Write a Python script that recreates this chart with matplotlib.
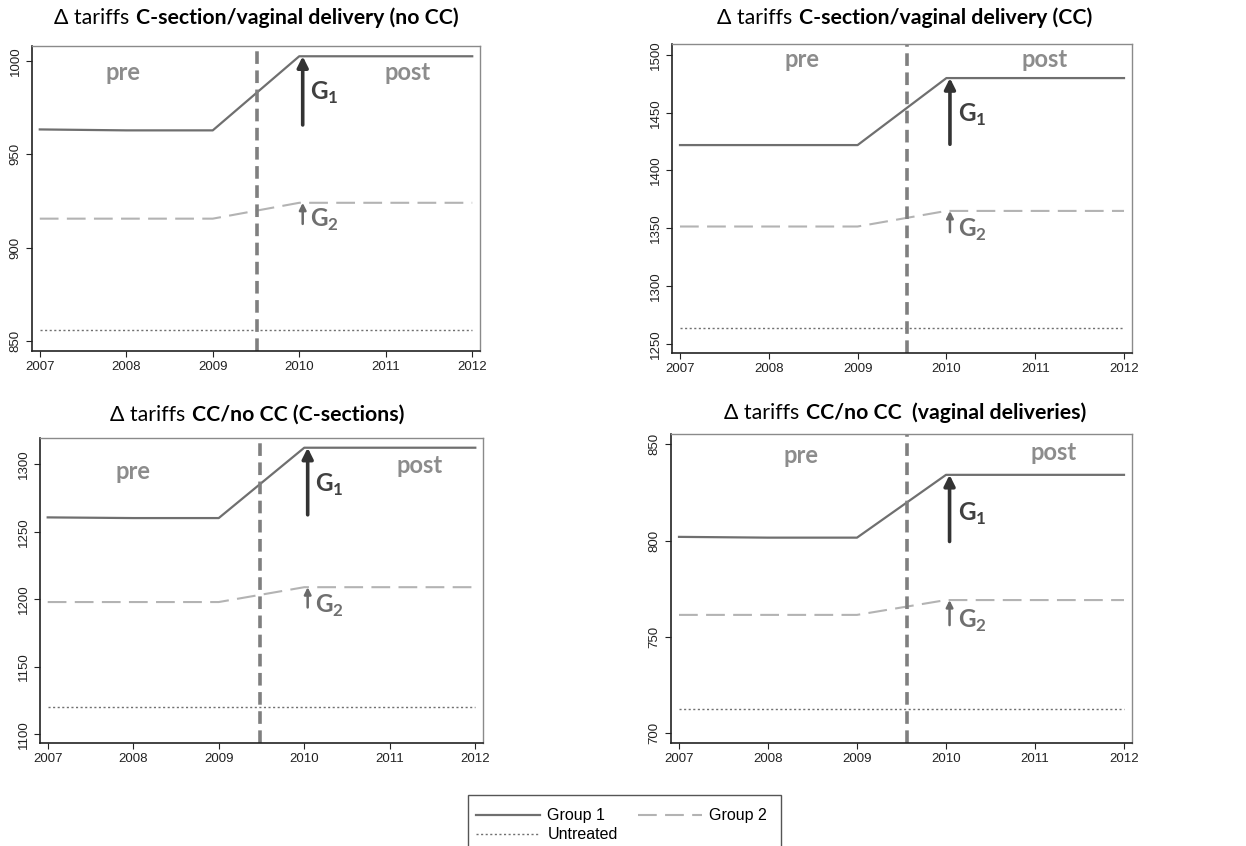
import matplotlib
matplotlib.use("Agg")
import matplotlib.pyplot as plt
from matplotlib.offsetbox import TextArea, HPacker, AnchoredOffsetbox
from matplotlib.patches import Rectangle

plt.rcParams["font.family"] = ["Liberation Sans", "DejaVu Sans"]
plt.rcParams["mathtext.fontset"] = "custom"
plt.rcParams["mathtext.rm"] = "Lato"
plt.rcParams["mathtext.bf"] = "Lato:bold"

years = [2007, 2008, 2009, 2010, 2011, 2012]

titles_bold = [
    "C-section/vaginal delivery (no CC)",
    "C-section/vaginal delivery (CC)",
    "CC/no CC (C-sections)",
    "CC/no CC  (vaginal deliveries)",
]

group1 = [
    [963.3, 962.8, 962.8, 1002.5, 1002.5, 1002.5],
    [1422, 1422, 1422, 1480, 1480, 1480],
    [1260.7, 1260.2, 1260.2, 1312.3, 1312.3, 1312.3],
    [802.0, 801.6, 801.6, 834.2, 834.2, 834.2],
]
group2 = [
    [915.5, 915.5, 915.5, 924.0, 924.0, 924.0],
    [1351.5, 1351.5, 1351.5, 1365, 1365, 1365],
    [1198, 1198, 1198, 1209, 1209, 1209],
    [761.5, 761.5, 761.5, 769.2, 769.2, 769.2],
]
untreated = [
    [856] * 6,
    [1264] * 6,
    [1120.5] * 6,
    [712.5] * 6,
]
reform_x = [2009.51, 2009.56, 2009.48, 2009.56]
ylims = [(844.6, 1008), (1242, 1509.5), (1093.6, 1319.5), (695, 855.4)]
yticks = [range(850, 1001, 50), range(1250, 1501, 50),
          range(1100, 1301, 50), range(700, 851, 50)]

# arrows: start values, ending at the 2010 group value
g1_arrow_start = [965.7, 1422.7, 1262.6, 799.6]
g2_arrow_start = [912.7, 1346.6, 1194, 756.2]
g1_label_y = [983, 1448, 1285, 814]
g2_label_y = [914.8, 1349, 1195, 758.5]
pre_pos = [(2007.96, 993.7), (2008.37, 1495.7), (2008.0, 1294.5), (2008.37, 844)]
post_pos = [(2011.25, 993.7), (2011.1, 1495.7), (2011.35, 1299.5), (2011.21, 845.6)]

W, H = 1246, 846
fig = plt.figure(figsize=(W / 100, H / 100), dpi=100)

# axes boxes in pixels: left, right, top, bottom
boxes = [(32, 480, 46, 351), (672, 1132, 44, 353),
         (40, 483, 438, 743), (671, 1132, 434, 743)]
title_xy = [(256, 18), (905, 18), (257, 415), (905, 413)]

handles = None
for i in range(4):
    l, r, t, b = boxes[i]
    ax = fig.add_axes([l / W, 1 - b / H, (r - l) / W, (b - t) / H])
    h1, = ax.plot(years, group1[i], color="#6f6f6f", lw=1.6, label="Group 1")
    h2, = ax.plot(years, group2[i], color="#b3b3b3", lw=1.5,
                  dashes=(9, 4), label="Group 2")
    h3, = ax.plot(years, untreated[i], color="#707070", lw=1.0,
                  dashes=(1.5, 1.8), label="Untreated")
    handles = [h1, h3, h2]
    ax.axvline(reform_x[i], color="#7f7f7f", lw=2.6, dashes=(3.5, 1.8))

    ax.annotate("", xy=(2010.04, group1[i][3]), xytext=(2010.04, g1_arrow_start[i]),
                arrowprops=dict(arrowstyle="-|>", color="#333333", lw=2.6,
                                mutation_scale=16, shrinkA=0, shrinkB=0))
    ax.annotate("", xy=(2010.04, group2[i][3]), xytext=(2010.04, g2_arrow_start[i]),
                arrowprops=dict(arrowstyle="-|>", color="#6a6a6a", lw=1.8,
                                mutation_scale=10, shrinkA=0, shrinkB=0))
    ax.text(2010.13, g1_label_y[i], r"$\mathbf{G}_\mathbf{1}$", color="#404040",
            fontsize=17.5, va="center", ha="left")
    ax.text(2010.13, g2_label_y[i], r"$\mathbf{G}_\mathbf{2}$", color="#6f6f6f",
            fontsize=17.5, va="center", ha="left")
    ax.text(*pre_pos[i], "pre", family="Lato", weight="bold", color="#8c8c8c",
            fontsize=17, ha="center", va="center")
    ax.text(*post_pos[i], "post", family="Lato", weight="bold", color="#8c8c8c",
            fontsize=17, ha="center", va="center")

    ax.set_xlim(2006.91, 2012.09)
    ax.set_ylim(*ylims[i])
    ax.set_xticks(years)
    ax.set_yticks(list(yticks[i]))
    ax.tick_params(labelsize=9.5, colors="#222222", length=4, width=0.8)
    ax.tick_params(axis="y", labelrotation=90)
    for lbl in ax.get_yticklabels():
        lbl.set_va("center")
    for s in ["top", "right"]:
        ax.spines[s].set_color("#8a8a8a")
        ax.spines[s].set_linewidth(1.0)
    for s in ["left", "bottom"]:
        ax.spines[s].set_color("#222222")
        ax.spines[s].set_linewidth(1.2)

    tx, ty = title_xy[i]
    packed = HPacker(children=[
        TextArea("\u0394 tariffs", textprops=dict(family=["Lato", "DejaVu Sans"],
                                                   fontsize=15.3, color="black")),
        TextArea(titles_bold[i], textprops=dict(family="Lato", weight="bold",
                                                fontsize=15.3, color="black")),
    ], sep=5, align="baseline", pad=0)
    box = AnchoredOffsetbox(loc="center", child=packed, frameon=False, pad=0,
                            borderpad=0, bbox_to_anchor=(tx / W, 1 - ty / H),
                            bbox_transform=fig.transFigure)
    fig.add_artist(box)

# legend box (bottom edge runs past the figure)
fig.add_artist(Rectangle((468 / W, 0 - 10 / H), (781 - 468) / W, (10 + H - 795) / H,
                         transform=fig.transFigure, fill=False,
                         edgecolor="#555555", lw=1.0))
fig.legend(handles=handles, labels=[h.get_label() for h in handles], ncol=2,
           loc="upper left", bbox_to_anchor=(465 / W, 1 - 797 / H),
           frameon=False, fontsize=11.5, handlelength=4.0, columnspacing=1.3,
           handletextpad=0.45, labelspacing=0.25, borderpad=0.2)

fig.savefig("out.png", dpi=100, facecolor="white")
